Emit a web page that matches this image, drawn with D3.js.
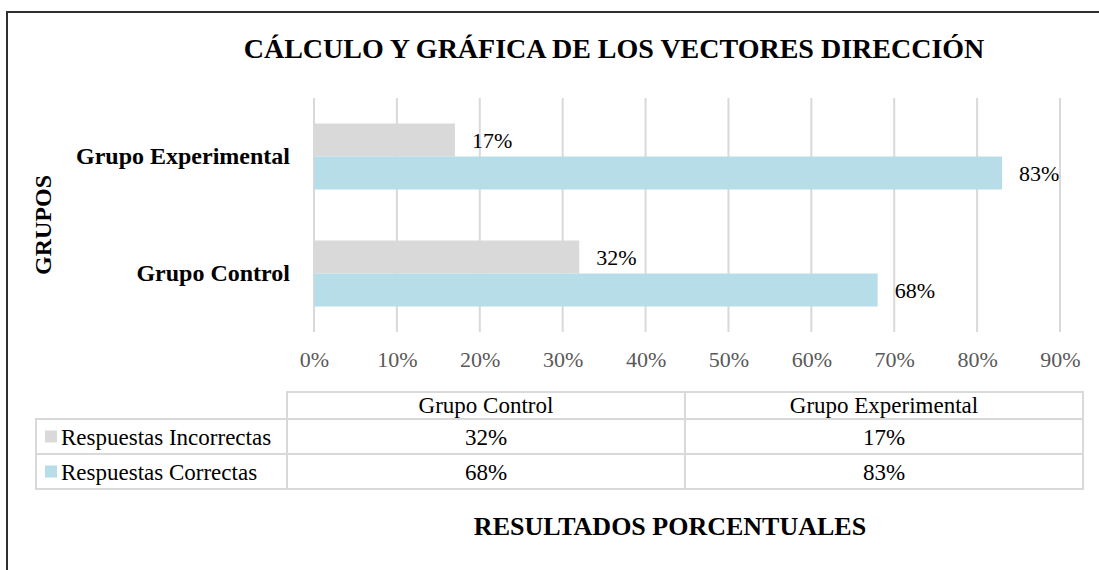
<!DOCTYPE html>
<html>
<head>
<meta charset="utf-8">
<script src="https://cdn.jsdelivr.net/npm/d3@7"></script>
<style>
  html, body { margin: 0; padding: 0; background: #fff; }
  svg { display: block; font-family: "Liberation Serif", "Times New Roman", serif; }
</style>
</head>
<body>
<svg id="chart" width="1099" height="570"></svg>
<script>
// ---- data ----
const groups = ["Grupo Control", "Grupo Experimental"];
const seriesNames = ["Respuestas Incorrectas", "Respuestas Correctas"];
const incorrectas = [0.32, 0.17];
const correctas = [0.68, 0.83];
const xTicks = [0, 0.1, 0.2, 0.3, 0.4, 0.5, 0.6, 0.7, 0.8, 0.9];
const seriesColors = ["#d9d9d9", "#b7dde8"];
const titleText = "CÁLCULO Y GRÁFICA DE LOS VECTORES DIRECCIÓN";
const yTitle = "GRUPOS";
const xTitle = "RESULTADOS PORCENTUALES";

const seriesValues = [incorrectas, correctas];
const rows = [];
groups.forEach((g, gi) => seriesNames.forEach((s, si) => rows.push({ group: g, series: s, si, value: seriesValues[si][gi] })));

const svg = d3.select("#chart");
const pct = d3.format(".0%");

// outer frame
svg.append("rect").attr("x", 7).attr("y", 12).attr("width", 1110).attr("height", 580)
  .attr("fill", "none").attr("stroke", "#303030").attr("stroke-width", 2);

// scales
const x = d3.scaleLinear().domain([0, 0.9]).range([314, 1060]);
const yOrder = groups.slice().reverse(); // Experimental on top
const y = d3.scaleBand().domain(yOrder).range([98, 332]).padding(0);
const y1 = d3.scaleBand().domain(seriesNames).range([0, y.bandwidth()]).paddingInner(0).paddingOuter(0.773);

// gridlines
svg.append("g").selectAll("line").data(xTicks).join("line")
  .attr("x1", d => x(d)).attr("x2", d => x(d))
  .attr("y1", 98).attr("y2", 332)
  .attr("stroke", "#d9d9d9").attr("stroke-width", 2);

// bars
svg.append("g").selectAll("rect").data(rows).join("rect")
  .attr("x", x(0))
  .attr("y", d => y(d.group) + y1(d.series))
  .attr("width", d => x(d.value) - x(0))
  .attr("height", y1.bandwidth())
  .attr("fill", d => seriesColors[d.si]);

// data labels
svg.append("g").selectAll("text").data(rows).join("text")
  .attr("x", d => x(d.value) + 17)
  .attr("y", d => y(d.group) + y1(d.series) + y1.bandwidth() / 2 + 8)
  .attr("font-size", 22).attr("fill", "#000")
  .text(d => pct(d.value));

// x axis tick labels
const xAxis = d3.axisBottom(x).tickValues(xTicks).tickFormat(pct).tickSize(0).tickPadding(0);
const gx = svg.append("g").attr("transform", "translate(0,349)").call(xAxis);
gx.select(".domain").remove();
gx.selectAll("text").attr("font-size", 22).attr("fill", "#595959")
  .attr("font-family", "Liberation Serif, Times New Roman, serif").attr("dy", "0.8em");

// y axis labels
const yAxis = d3.axisLeft(y).tickSize(0).tickPadding(0);
const gy = svg.append("g").attr("transform", "translate(290,0)").call(yAxis);
gy.select(".domain").remove();
gy.selectAll("text").attr("font-size", 24).attr("font-weight", "bold").attr("fill", "#000")
  .attr("font-family", "Liberation Serif, Times New Roman, serif").attr("dy", "0.3em");

// title
svg.append("text").attr("x", 614).attr("y", 58).attr("text-anchor", "middle")
  .attr("font-size", 28).attr("font-weight", "bold").text(titleText);

// y title
svg.append("text").attr("transform", "translate(51,225) rotate(-90)").attr("text-anchor", "middle")
  .attr("font-size", 24).attr("font-weight", "bold").text(yTitle);

// x title
svg.append("text").attr("x", 670).attr("y", 535).attr("text-anchor", "middle")
  .attr("font-size", 26).attr("font-weight", "bold").text(xTitle);

// data table
const tLeft = 36, tRight = 1083, colStart = 287;
const col = d3.scaleBand().domain(groups).range([colStart, tRight]);
const rowY = d3.scaleBand().domain(["header"].concat(seriesNames)).range([392, 489]);
const tGrid = "#d9d9d9";
const tg = svg.append("g");
// header row box
tg.append("rect").attr("x", colStart).attr("y", 392).attr("width", tRight - colStart).attr("height", 419 - 392)
  .attr("fill", "none").attr("stroke", tGrid).attr("stroke-width", 2);
// series rows
const rowTop = [419, 454];
const rowH = 35;
seriesNames.forEach((s, si) => {
  tg.append("rect").attr("x", tLeft).attr("y", rowTop[si]).attr("width", tRight - tLeft).attr("height", rowH)
    .attr("fill", "none").attr("stroke", tGrid).attr("stroke-width", 2);
});
// vertical lines
[colStart, col(groups[1])].forEach(vx => {
  tg.append("line").attr("x1", vx).attr("x2", vx).attr("y1", 392).attr("y2", 489)
    .attr("stroke", tGrid).attr("stroke-width", 2);
});
// header text
tg.selectAll("text.h").data(groups).join("text").attr("class", "h")
  .attr("x", d => col(d) + col.bandwidth() / 2).attr("y", 413)
  .attr("text-anchor", "middle").attr("font-size", 23).text(d => d);
// row labels & keys
seriesNames.forEach((s, si) => {
  const cy = rowTop[si] + rowH / 2;
  tg.append("rect").attr("x", 45).attr("y", cy - 6).attr("width", 12).attr("height", 12).attr("fill", seriesColors[si]);
  tg.append("text").attr("x", 61).attr("y", cy + 8).attr("font-size", 23).text(s);
  groups.forEach((g, gi) => {
    tg.append("text").attr("x", col(g) + col.bandwidth() / 2).attr("y", cy + 8)
      .attr("text-anchor", "middle").attr("font-size", 23).text(pct(seriesValues[si][gi]));
  });
});
</script>
</body>
</html>
